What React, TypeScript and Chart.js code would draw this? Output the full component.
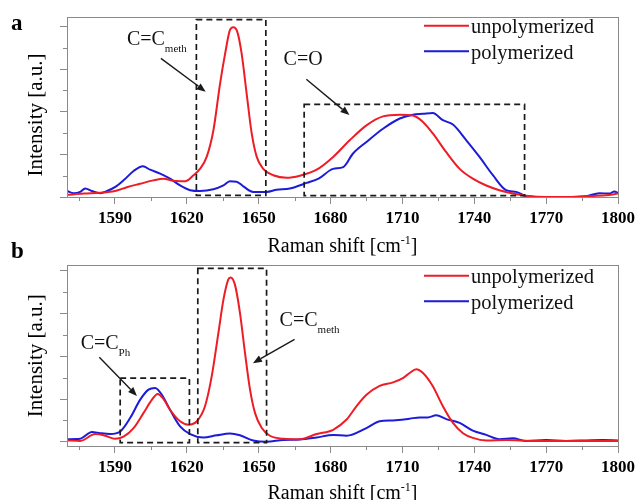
import React, { useEffect, useRef } from "react";
import { Chart, registerables } from "chart.js";

Chart.register(...registerables);

const SERIF = '"Liberation Serif", "Times New Roman", Times, serif';
const RED = "#ee1c25";
const BLUE = "#1b1bd8";
const FRAME = "#8a8a8a";
const INK = "#1a1a1a";

// Axis ticks (Raman shift in cm^-1, intensity in arbitrary units)
const shiftTicks = [1590, 1620, 1650, 1680, 1710, 1740, 1770, 1800];
const shiftMinorTicks = [1575, 1605, 1635, 1665, 1695, 1725, 1755, 1785];
const intensityTicks = [0, 1, 2, 3, 4];
const intensityMinorTicks = [0.5, 1.5, 2.5, 3.5];

// Panel a — unpolymerized
const shiftA_unpoly = [
  1570, 1577, 1584, 1590, 1595, 1600.5, 1606, 1610.3, 1614.4, 1619.3, 1622.8, 1625.5,
  1628.3, 1631.1, 1633.9, 1636, 1638, 1639.4, 1641.1, 1642.9, 1645, 1647.1, 1649.2,
  1651.9, 1656.1, 1661.7, 1667.2, 1674.2, 1681.1, 1688, 1695, 1701.9, 1708.9, 1714.4,
  1718.6, 1722.7, 1728.3, 1733.9, 1739.4, 1745, 1750.5, 1756.1, 1761.7, 1770, 1778.3,
  1786.7, 1795, 1800,
];
const intA_unpoly = [
  0.05, 0.08, 0.1, 0.14, 0.23, 0.31, 0.39, 0.43, 0.38, 0.37, 0.51, 0.66,
  0.94, 1.56, 2.66, 3.36, 3.91, 3.98, 3.87, 3.36, 2.42, 1.49, 0.94,
  0.66, 0.51, 0.45, 0.5, 0.64, 0.94, 1.33, 1.68, 1.89, 1.93, 1.91,
  1.76, 1.49, 1.05, 0.66, 0.43, 0.27, 0.16, 0.08, 0.03, 0.0, 0.0,
  0.02, 0.04, 0.08,
];

// Panel a — polymerized
const shiftA_poly = [
  1570, 1572.8, 1575.5, 1577.6, 1580.4, 1583.9, 1586.7, 1590, 1593.6, 1597.8, 1601.7,
  1604.7, 1608.9, 1613, 1617.2, 1621.4, 1625.5, 1631.1, 1635.3, 1638, 1640.8, 1643.6,
  1647.7, 1653.3, 1657.5, 1663, 1670, 1675, 1681.1, 1685.3, 1689.4, 1695, 1701.9,
  1708.9, 1714.4, 1718.6, 1722.7, 1726.9, 1731.1, 1736.7, 1742.2, 1747.8, 1753.3,
  1757.5, 1761.7, 1770, 1778.3, 1786.7, 1792.2, 1796.4, 1798.5, 1800,
];
const intA_poly = [
  0.14, 0.09, 0.12, 0.2, 0.14, 0.09, 0.14, 0.23, 0.39, 0.61, 0.72,
  0.64, 0.55, 0.43, 0.27, 0.16, 0.14, 0.18, 0.27, 0.37, 0.36, 0.25,
  0.12, 0.12, 0.17, 0.2, 0.33, 0.43, 0.66, 0.7, 1.02, 1.29, 1.6,
  1.84, 1.93, 1.95, 1.97, 1.8, 1.7, 1.33, 0.94, 0.51, 0.16,
  0.12, 0.02, 0.0, 0.0, 0.02, 0.09, 0.08, 0.13, 0.09,
];

// Panel b — unpolymerized
const shiftB_unpoly = [
  1570, 1575.5, 1581.8, 1586, 1590, 1593.6, 1597.8, 1601.9, 1605.4, 1607.8, 1610.3,
  1613, 1617.2, 1620.7, 1624.2, 1627.6, 1630.4, 1633.2, 1635.3, 1637.3, 1638.3, 1640.1,
  1642.2, 1644.3, 1646.4, 1648.5, 1651.3, 1654.7, 1660.3, 1667.2, 1674.2, 1681.1,
  1686.7, 1690.8, 1695, 1700.5, 1706.1, 1710.2, 1713, 1715.8, 1718.6, 1722.7, 1726.9,
  1731.1, 1735.3, 1739.4, 1745, 1753.3, 1764.4, 1778.3, 1792.2, 1800,
];
const intB_unpoly = [
  0.03, 0.02, 0.18, 0.14, 0.07, 0.12, 0.32, 0.67, 0.98, 1.12, 1.0,
  0.75, 0.48, 0.4, 0.48, 0.83, 1.53, 2.55, 3.33, 3.8, 3.85, 3.68,
  3.02, 2.08, 1.22, 0.67, 0.32, 0.14, 0.07, 0.06, 0.18, 0.28,
  0.52, 0.83, 1.1, 1.31, 1.39, 1.49, 1.61, 1.7, 1.61, 1.3, 0.83,
  0.44, 0.2, 0.09, 0.03, 0.04, 0.02, 0.02, 0.02, 0.02,
];

// Panel b — polymerized
const shiftB_poly = [
  1570, 1575.5, 1580.4, 1583.9, 1588, 1592.2, 1596.4, 1600.5, 1604, 1606.8, 1609.6,
  1613, 1617.2, 1621.4, 1626.9, 1632.5, 1638, 1642.2, 1647.7, 1653.3, 1660.3, 1667.2,
  1674.2, 1681.1, 1686.7, 1695, 1700.5, 1706.1, 1713, 1717.2, 1720.6, 1724.1, 1728.3,
  1733.9, 1739.4, 1745, 1750.5, 1756.1, 1761.7, 1770, 1778.3, 1786.7, 1793.6, 1800,
];
const intB_poly = [
  0.06, 0.07, 0.23, 0.2, 0.18, 0.24, 0.56, 0.98, 1.22, 1.26, 1.1,
  0.75, 0.36, 0.18, 0.1, 0.15, 0.19, 0.15, 0.03, 0.0, 0.04, 0.05,
  0.1, 0.16, 0.14, 0.32, 0.48, 0.5, 0.54, 0.57, 0.57, 0.62, 0.53,
  0.44, 0.26, 0.16, 0.06, 0.08, 0.02, 0.04, 0.02, 0.03, 0.04, 0.03,
];

type Box = { x0: number; x1: number; y0: number; y1: number };
type Note = { text: string; sub?: string; x: number; y: number };
type Arrow = { x0: number; y0: number; x1: number; y1: number };

interface PanelSpec {
  letter: string;
  unpolyShift: number[];
  unpolyInt: number[];
  polyShift: number[];
  polyInt: number[];
  yMin: number;
  yMax: number;
  padTop: number;
  xAxisHeight: number;
  letterBaseline: number;
  xTitleBaseline: number;
  yTitleCenter: number;
  legendOffset: number;
  boxes: Box[];
  notes: Note[];
  arrows: Arrow[];
}

const panelA: PanelSpec = {
  letter: "a",
  unpolyShift: shiftA_unpoly,
  unpolyInt: intA_unpoly,
  polyShift: shiftA_poly,
  polyInt: intA_poly,
  yMin: 0,
  yMax: 4.22,
  padTop: 17,
  xAxisHeight: 63,
  letterBaseline: 30,
  xTitleBaseline: 251.5,
  yTitleCenter: 115,
  legendOffset: 8.7,
  boxes: [
    { x0: 1624, x1: 1653, y0: 0.04, y1: 4.16 },
    { x0: 1669, x1: 1761, y0: 0.03, y1: 2.17 },
  ],
  notes: [
    { text: "C=C", sub: "meth", x: 1595, y: 3.56 },
    { text: "C=O", x: 1660.4, y: 3.09 },
  ],
  arrows: [
    { x0: 1609.2, y0: 3.25, x1: 1627.9, y1: 2.47 },
    { x0: 1669.9, y0: 2.76, x1: 1687.9, y1: 1.92 },
  ],
};

const panelB: PanelSpec = {
  letter: "b",
  unpolyShift: shiftB_unpoly,
  unpolyInt: intB_unpoly,
  polyShift: shiftB_poly,
  polyInt: intB_poly,
  yMin: -0.1,
  yMax: 4.14,
  padTop: 25,
  xAxisHeight: 54,
  letterBaseline: 18,
  xTitleBaseline: 259,
  yTitleCenter: 115.7,
  legendOffset: 10.7,
  boxes: [
    { x0: 1592.2, x1: 1621.1, y0: -0.02, y1: 1.49 },
    { x0: 1624.6, x1: 1653.3, y0: -0.02, y1: 4.06 },
  ],
  notes: [
    { text: "C=C", sub: "Ph", x: 1575.7, y: 2.17 },
    { text: "C=C", sub: "meth", x: 1658.75, y: 2.7 },
  ],
  arrows: [
    { x0: 1583.5, y0: 1.98, x1: 1599.2, y1: 1.07 },
    { x0: 1665, y0: 2.4, x1: 1647.6, y1: 1.84 },
  ],
};

const zip = (xs: number[], ys: number[]) => xs.map((x, i) => ({ x, y: ys[i] }));

function drawArrow(ctx: CanvasRenderingContext2D, x0: number, y0: number, x1: number, y1: number) {
  const ang = Math.atan2(y1 - y0, x1 - x0);
  const head = 9;
  const half = 3.6;
  const bx = x1 - head * Math.cos(ang);
  const by = y1 - head * Math.sin(ang);
  ctx.strokeStyle = INK;
  ctx.fillStyle = INK;
  ctx.lineWidth = 1.4;
  ctx.setLineDash([]);
  ctx.beginPath();
  ctx.moveTo(x0, y0);
  ctx.lineTo(bx, by);
  ctx.stroke();
  ctx.beginPath();
  ctx.moveTo(x1, y1);
  ctx.lineTo(bx + half * Math.sin(ang), by - half * Math.cos(ang));
  ctx.lineTo(bx - half * Math.sin(ang), by + half * Math.cos(ang));
  ctx.closePath();
  ctx.fill();
}

function buildChart(canvas: HTMLCanvasElement, spec: PanelSpec) {
  const decor = {
    id: "panelDecor",
    afterDraw(chart: any) {
      const { ctx, chartArea: a, scales } = chart;
      const px = (v: number) => scales.x.getPixelForValue(v);
      const py = (v: number) => scales.y.getPixelForValue(v);
      ctx.save();

      // plot frame
      ctx.strokeStyle = FRAME;
      ctx.lineWidth = 1;
      ctx.strokeRect(
        Math.round(a.left) + 0.5,
        Math.round(a.top) + 0.5,
        Math.round(a.right - a.left),
        Math.round(a.bottom - a.top)
      );

      // minor ticks
      ctx.beginPath();
      shiftMinorTicks.forEach((v) => {
        const x = Math.round(px(v)) + 0.5;
        ctx.moveTo(x, a.bottom);
        ctx.lineTo(x, a.bottom + 4);
      });
      intensityMinorTicks.forEach((v) => {
        const y = Math.round(py(v)) + 0.5;
        ctx.moveTo(a.left - 4, y);
        ctx.lineTo(a.left, y);
      });
      ctx.stroke();

      // dashed band markers
      ctx.strokeStyle = INK;
      ctx.lineWidth = 1.7;
      ctx.setLineDash([6, 4]);
      spec.boxes.forEach((b) => {
        const x0 = px(b.x0), x1 = px(b.x1), y0 = py(b.y0), y1 = py(b.y1);
        ctx.strokeRect(x0, y1, x1 - x0, y0 - y1);
      });
      ctx.setLineDash([]);

      // arrows
      spec.arrows.forEach((ar) => drawArrow(ctx, px(ar.x0), py(ar.y0), px(ar.x1), py(ar.y1)));

      // band labels
      ctx.fillStyle = "#111";
      ctx.textAlign = "left";
      ctx.textBaseline = "alphabetic";
      spec.notes.forEach((n) => {
        const x = px(n.x), y = py(n.y);
        ctx.font = `20px ${SERIF}`;
        ctx.fillText(n.text, x, y);
        if (n.sub) {
          const w = ctx.measureText(n.text).width;
          ctx.font = `11px ${SERIF}`;
          ctx.fillText(n.sub, x + w, y + 7);
        }
      });

      // legend
      const datasets = chart.data.datasets;
      datasets.forEach((ds: any, i: number) => {
        const y = a.top + spec.legendOffset + i * 25.6;
        ctx.strokeStyle = ds.borderColor;
        ctx.lineWidth = 2;
        ctx.beginPath();
        ctx.moveTo(a.right - 194, y);
        ctx.lineTo(a.right - 149, y);
        ctx.stroke();
        ctx.fillStyle = "#111";
        ctx.font = `20.5px ${SERIF}`;
        ctx.fillText(ds.label, a.right - 147, y + 7.3);
      });

      // panel letter
      ctx.fillStyle = "#000";
      ctx.font = `bold 23px ${SERIF}`;
      ctx.fillText(spec.letter, 11, spec.letterBaseline);

      // x-axis title with superscript
      ctx.font = `20px ${SERIF}`;
      const main = "Raman shift [cm";
      const wMain = ctx.measureText(main).width;
      const wClose = ctx.measureText("]").width;
      ctx.font = `12px ${SERIF}`;
      const wSup = ctx.measureText("-1").width;
      const total = wMain + wSup + wClose;
      let tx = (a.left + a.right) / 2 - total / 2;
      ctx.font = `20px ${SERIF}`;
      ctx.fillText(main, tx, spec.xTitleBaseline);
      ctx.font = `12px ${SERIF}`;
      ctx.fillText("-1", tx + wMain, spec.xTitleBaseline - 8);
      ctx.font = `20px ${SERIF}`;
      ctx.fillText("]", tx + wMain + wSup, spec.xTitleBaseline);

      // y-axis title
      ctx.save();
      ctx.translate(41.5, spec.yTitleCenter);
      ctx.rotate(-Math.PI / 2);
      ctx.textAlign = "center";
      ctx.font = `21px ${SERIF}`;
      ctx.fillText("Intensity [a.u.]", 0, 0);
      ctx.restore();

      ctx.restore();
    },
  };

  return new Chart(canvas, {
    type: "line",
    data: {
      datasets: [
        {
          label: "unpolymerized",
          data: zip(spec.unpolyShift, spec.unpolyInt),
          borderColor: RED,
          borderWidth: 2,
          pointRadius: 0,
          cubicInterpolationMode: "monotone",
          fill: false,
        },
        {
          label: "polymerized",
          data: zip(spec.polyShift, spec.polyInt),
          borderColor: BLUE,
          borderWidth: 2,
          pointRadius: 0,
          cubicInterpolationMode: "monotone",
          fill: false,
        },
      ],
    },
    options: {
      animation: false,
      responsive: false,
      maintainAspectRatio: false,
      devicePixelRatio: 1,
      layout: { padding: { left: 0, right: 20, top: spec.padTop, bottom: 0 } },
      plugins: { legend: { display: false }, tooltip: { enabled: false } },
      scales: {
        x: {
          type: "linear",
          min: 1570,
          max: 1800,
          afterBuildTicks: (s: any) => {
            s.ticks = shiftTicks.map((v) => ({ value: v }));
          },
          afterFit: (s: any) => {
            s.height = spec.xAxisHeight;
          },
          ticks: {
            autoSkip: false,
            maxRotation: 0,
            padding: 4,
            color: "#000",
            font: { family: SERIF, size: 17, weight: "bold" },
            callback: (v: any) => String(v),
          },
          grid: { drawOnChartArea: false, drawTicks: true, tickLength: 7, color: FRAME },
          border: { display: false },
        },
        y: {
          type: "linear",
          min: spec.yMin,
          max: spec.yMax,
          afterBuildTicks: (s: any) => {
            s.ticks = intensityTicks.map((v) => ({ value: v }));
          },
          afterFit: (s: any) => {
            s.width = 67;
          },
          ticks: { display: false },
          grid: { drawOnChartArea: false, drawTicks: true, tickLength: 7, color: FRAME },
          border: { display: false },
        },
      },
    } as any,
    plugins: [decor],
  });
}

function Panel({ spec, top }: { spec: PanelSpec; top: number }) {
  const ref = useRef<HTMLCanvasElement>(null);
  useEffect(() => {
    if (!ref.current) return;
    const chart = buildChart(ref.current, spec);
    return () => chart.destroy();
  }, [spec]);
  return (
    <canvas
      ref={ref}
      width={639}
      height={260}
      style={{ position: "absolute", left: 0, top, width: 639, height: 260 }}
    />
  );
}

export default function App() {
  return (
    <div
      style={{
        position: "absolute",
        left: 0,
        top: 0,
        width: 639,
        height: 500,
        background: "#fff",
        overflow: "hidden",
      }}
    >
      <Panel spec={panelA} top={0} />
      <Panel spec={panelB} top={240} />
    </div>
  );
}
